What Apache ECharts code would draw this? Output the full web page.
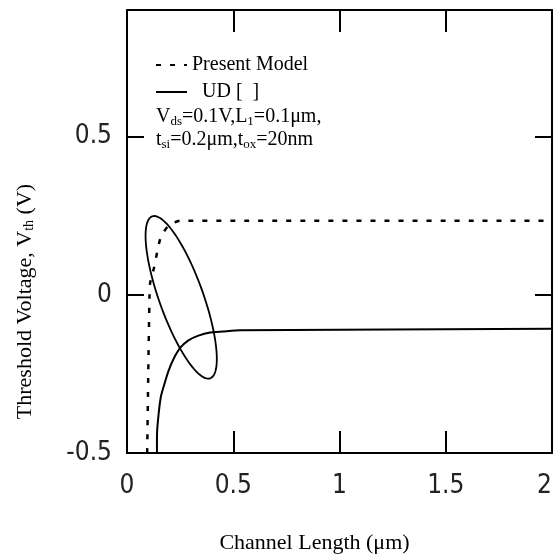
<!DOCTYPE html>
<html>
<head>
<meta charset="utf-8">
<script src="https://cdn.jsdelivr.net/npm/echarts@6/dist/echarts.min.js"></script>
<style>
  html, body { margin: 0; padding: 0; background: #fff; }
  #chart { width: 555px; height: 559px; }
</style>
</head>
<body>
<div id="chart"></div>
<script>
// threshold voltage vs channel length
var presentX = [0.095, 0.100, 0.106, 0.109, 0.128, 0.144, 0.160, 0.195, 0.250, 2.0];
var presentY = [-0.50, -0.25, 0.00, 0.038, 0.088, 0.142, 0.184, 0.218, 0.234, 0.234];

var udX = [0.141, 0.141, 0.148, 0.160, 0.180, 0.195, 0.219, 0.250, 0.289, 0.336, 0.391, 0.450, 0.532, 2.0];
var udY = [-0.50, -0.445, -0.382, -0.320, -0.273, -0.241, -0.203, -0.168, -0.144, -0.129, -0.119, -0.116, -0.112, -0.1075];

var xTickLabels = ['0', '0.5', '1', '1.5', '2'];
var yTickLabels = ['-0.5', '0', '0.5'];

var seriesNames = ['Present Model', 'UD [  ]'];

// the ellipse marking the short-channel region (centre in data units)
var ellipseCentre = [[0.255, -0.008]];

function pairs(xs, ys) {
    return xs.map(function (x, i) { return [x, ys[i]]; });
}

function tickText(list) {
    return function (v) {
        var s = String(Math.round(v * 10) / 10);
        return list.indexOf(s) >= 0 ? s : '';
    };
}

var serif = 'Liberation Serif, Times New Roman, serif';
var tickFont = 'DejaVu Sans Condensed, Liberation Sans Narrow, sans-serif';

var dom = document.getElementById('chart');
var myChart = echarts.init(dom);

var option = {
    backgroundColor: '#fff',
    animation: false,
    grid: { left: 127, right: 2, top: 10, bottom: 102 },

    legend: {
        data: seriesNames,
        orient: 'vertical',
        left: 155,
        top: 55,
        padding: 0,
        itemWidth: 31,
        itemHeight: 14,
        itemGap: 7,
        itemStyle: { opacity: 0 },
        textStyle: { fontFamily: serif, fontSize: 20, color: '#000' },
        formatter: function (name) {
            return name === 'UD [  ]' ? '  ' + name : name;
        }
    },

    graphic: [{
        type: 'text',
        left: 156,
        top: 105,
        style: {
            text: 'V{sub|ds}=0.1V,L{sub|1}=0.1\u03bcm,\nt{sub|si}=0.2\u03bcm,t{sub|ox}=20nm',
            fill: '#000',
            font: '20px ' + serif,
            lineHeight: 23,
            rich: {
                sub: { fontSize: 13, fontFamily: serif, verticalAlign: 'bottom', lineHeight: 13 }
            }
        }
    }],

    xAxis: [{
        type: 'value',
        min: 0,
        max: 2,
        interval: 0.5,
        name: 'Channel Length (\u03bcm)',
        nameLocation: 'middle',
        nameGap: 79,
        nameTextStyle: { fontFamily: serif, fontSize: 22, color: '#000', padding: [0, 50, 0, 0] },
        axisLine: { show: true, onZero: false, lineStyle: { color: '#000', width: 2 } },
        axisTick: { show: true, inside: true, length: 22, lineStyle: { color: '#000', width: 2 } },
        axisLabel: {
            margin: 20,
            fontFamily: tickFont,
            fontSize: 26,
            color: '#222',
            alignMaxLabel: 'right',
            formatter: tickText(xTickLabels)
        },
        splitLine: { show: false }
    }, {
        type: 'value',
        position: 'top',
        min: 0,
        max: 2,
        interval: 0.5,
        axisLine: { show: true, onZero: false, lineStyle: { color: '#000', width: 2 } },
        axisTick: { show: true, inside: true, length: 22, lineStyle: { color: '#000', width: 2 } },
        axisLabel: { show: false },
        splitLine: { show: false }
    }],

    yAxis: [{
        type: 'value',
        min: -0.5,
        max: 0.9,
        interval: 0.5,
        name: 'Threshold Voltage, V{sub|th} (V)',
        nameLocation: 'middle',
        nameRotate: 90,
        nameGap: 91,
        nameTextStyle: {
            fontFamily: serif,
            fontSize: 22,
            color: '#000',
            padding: [0, 140, 0, 0],
            rich: {
                sub: { fontFamily: serif, fontSize: 14, color: '#000', verticalAlign: 'bottom', lineHeight: 14 }
            }
        },
        axisLine: { show: true, onZero: false, lineStyle: { color: '#000', width: 2 } },
        axisTick: { show: true, inside: true, length: 17, lineStyle: { color: '#000', width: 2 } },
        axisLabel: {
            margin: 15,
            fontFamily: tickFont,
            fontSize: 26,
            color: '#222',
            padding: [12, 0, 0, 0],
            showMaxLabel: false,
            formatter: tickText(yTickLabels)
        },
        splitLine: { show: false }
    }, {
        type: 'value',
        position: 'right',
        min: -0.5,
        max: 0.9,
        interval: 0.5,
        axisLine: { show: true, onZero: false, lineStyle: { color: '#000', width: 2 } },
        axisTick: { show: true, inside: true, length: 17, lineStyle: { color: '#000', width: 2 } },
        axisLabel: { show: false },
        splitLine: { show: false }
    }],

    series: [
        {
            name: seriesNames[0],
            type: 'line',
            data: pairs(presentX, presentY),
            symbol: 'none',
            smooth: 0.2,
            lineStyle: { color: '#000', width: 2.5, type: [5, 9] },
            itemStyle: { color: '#000' }
        },
        {
            name: seriesNames[1],
            type: 'line',
            data: pairs(udX, udY),
            symbol: 'none',
            smooth: 0.2,
            lineStyle: { color: '#000', width: 2 },
            itemStyle: { color: '#000' }
        },
        {
            type: 'custom',
            data: ellipseCentre,
            silent: true,
            renderItem: function (params, api) {
                var c = api.coord([api.value(0), api.value(1)]);
                var a = 86, b = 22, phi = 19.7 * Math.PI / 180;
                var ux = Math.sin(phi), uy = Math.cos(phi);
                var vx = Math.cos(phi), vy = -Math.sin(phi);
                var pts = [];
                for (var i = 0; i < 120; i++) {
                    var t = i / 120 * Math.PI * 2;
                    pts.push([
                        c[0] + a * Math.cos(t) * ux + b * Math.sin(t) * vx,
                        c[1] + a * Math.cos(t) * uy + b * Math.sin(t) * vy
                    ]);
                }
                return {
                    type: 'polygon',
                    shape: { points: pts },
                    style: { fill: 'none', stroke: '#000', lineWidth: 1.8 }
                };
            }
        }
    ]
};

if (option && typeof option === 'object') {
    myChart.setOption(option, true);
}
</script>
</body>
</html>
